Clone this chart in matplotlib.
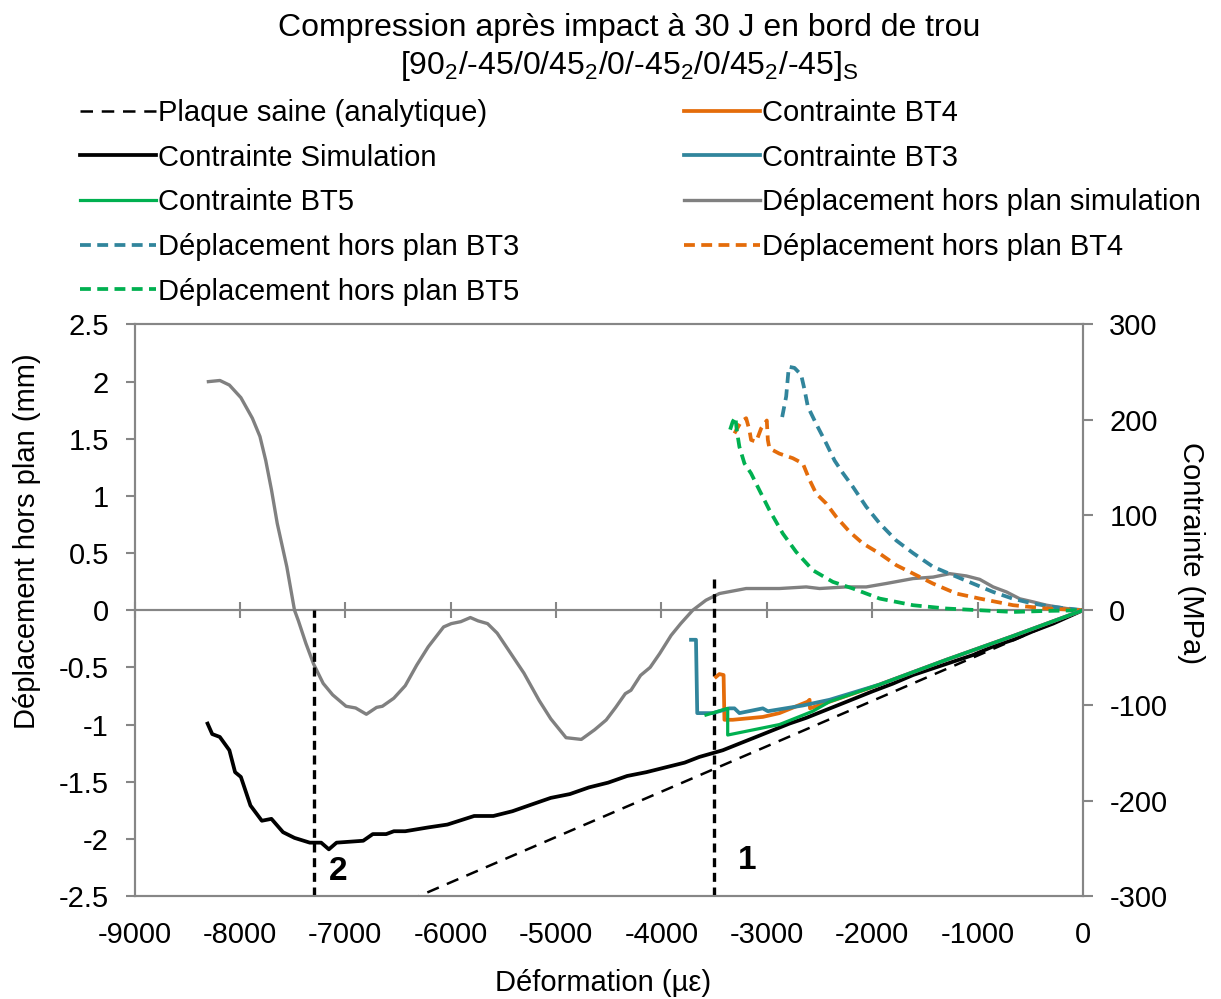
import matplotlib
matplotlib.use('Agg')
import matplotlib.pyplot as plt
from matplotlib.ticker import FuncFormatter

plt.rcParams['font.family'] = ['Liberation Sans', 'DejaVu Sans']
plt.rcParams['axes.unicode_minus'] = False
plt.rcParams['mathtext.default'] = 'regular'

# ---------------- data ----------------
# Out-of-plane displacement, simulation (mm, left axis)
sim_disp_x = [-8299, -8190, -8100, -7991, -7882, -7810, -7755, -7700, -7646, -7555,
              -7482, -7446, -7374, -7301, -7210, -7120, -6993, -6902, -6800, -6703,
              -6648, -6540, -6431, -6322, -6213, -6067, -5994, -5904, -5813, -5740,
              -5650, -5559, -5450, -5305, -5160, -5050, -4905, -4760, -4633, -4524,
              -4434, -4343, -4289, -4198, -4107, -4017, -3908, -3817, -3703, -3577,
              -3450, -3196, -2880, -2626, -2499, -2246, -2056, -1866, -1612, -1422,
              -1264, -1106, -979, -852, -725, -599, -472, -345, -155, 0]
sim_disp_y = [2.00, 2.01, 1.97, 1.86, 1.68, 1.52, 1.31, 1.05, 0.76, 0.38,
              0.00, -0.09, -0.29, -0.47, -0.64, -0.74, -0.84, -0.855, -0.91, -0.85,
              -0.84, -0.77, -0.66, -0.48, -0.32, -0.146, -0.117, -0.10, -0.064, -0.093,
              -0.117, -0.20, -0.35, -0.55, -0.79, -0.95, -1.115, -1.13, -1.045, -0.96,
              -0.85, -0.73, -0.70, -0.57, -0.50, -0.38, -0.22, -0.117, 0.00, 0.088,
              0.146, 0.19, 0.19, 0.204, 0.19, 0.204, 0.204, 0.234, 0.277, 0.29,
              0.32, 0.30, 0.27, 0.204, 0.16, 0.10, 0.073, 0.044, 0.015, 0.0]

# Out-of-plane displacement, tests (mm, left axis)
bt3_disp_x = [-2854, -2816, -2791, -2737, -2674, -2642, -2610, -2531, -2436, -2357,
              -2278, -2183, -2056, -1929, -1771, -1612, -1422, -1232, -1042, -852,
              -662, -472, -282, 0]
bt3_disp_y = [1.69, 1.87, 2.13, 2.12, 2.06, 1.93, 1.78, 1.63, 1.46, 1.31,
              1.20, 1.08, 0.905, 0.76, 0.61, 0.50, 0.38, 0.306, 0.233, 0.16,
              0.10, 0.058, 0.029, 0.0]

bt4_disp_x = [-3307, -3244, -3196, -3165, -3149, -3101, -3054, -3000, -2990, -2975,
              -2880, -2753, -2658, -2594, -2531, -2436, -2341, -2214, -2088, -1929,
              -1771, -1612, -1422, -1201, -979, -662, -345, 0]
bt4_disp_y = [1.547, 1.65, 1.68, 1.576, 1.49, 1.474, 1.59, 1.66, 1.49, 1.416,
              1.37, 1.33, 1.284, 1.14, 1.02, 0.934, 0.817, 0.686, 0.584, 0.496,
              0.394, 0.321, 0.233, 0.146, 0.102, 0.044, 0.015, 0.0]

bt5_disp_x = [-3348, -3323, -3298, -3285, -3260, -3212, -3149, -3070, -2975, -2848,
              -2721, -2563, -2373, -2183, -1929, -1612, -1296, -979, -662, -345, 0]
bt5_disp_y = [1.58, 1.65, 1.69, 1.576, 1.43, 1.284, 1.197, 1.05, 0.876, 0.671,
              0.51, 0.35, 0.248, 0.19, 0.102, 0.044, 0.015, 0.0, -0.015, -0.006, 0.0]

# Stress, simulation (MPa, right axis)
sim_stress_x = [-8307, -8263, -8191, -8100, -8046, -7991, -7900, -7792, -7701, -7591,
                -7482, -7337, -7229, -7156, -7083, -6830, -6739, -6612, -6539, -6431,
                -6213, -6031, -5777, -5595, -5414, -5233, -5050, -4869, -4688, -4506,
                -4325, -4143, -3962, -3780, -3640, -3513, -3418, -3260, -3101, -2943,
                -2785, -2626, -2468, -2309, -2151, -1993, -1802, -1612, -1422, -1232,
                -1042, -852, -662, -472, -282, 0]
sim_stress_y = [-119, -130, -133, -147, -170, -175, -205, -221, -219, -233,
                -239, -244, -244, -251, -244, -242, -235, -235, -232, -232,
                -228, -225, -216, -216, -211, -204, -197, -193, -186, -181,
                -174, -170, -165, -160, -154, -150, -147, -140, -133, -126,
                -119, -113, -106, -99, -92, -85, -77, -68, -61, -54,
                -47, -38, -31, -22, -14, 0]

# Stress, tests (MPa, right axis)
bt3_stress_x = [0, -662, -1296, -1929, -2404, -2658, -2990, -3038, -3260, -3307,
                -3355, -3513, -3660, -3672, -3719]
bt3_stress_y = [0, -27, -52, -78, -94, -100, -106, -103, -108, -103,
                -103, -108, -108, -31, -31]

bt4_stress_x = [0, -662, -1296, -1929, -2404, -2590, -2594, -2613, -2880, -3038,
                -3323, -3402, -3410, -3450, -3482]
bt4_stress_y = [0, -27, -52, -78, -96, -103, -94, -96, -108, -112,
                -115, -115, -68, -67, -70]

bt5_stress_x = [0, -662, -1296, -1929, -2404, -2563, -2880, -3371, -3371, -3577]
bt5_stress_y = [0, -27, -52, -78, -96, -106, -120, -131, -103, -110]

# Healthy plate (analytical)
analytic_x = [0, -6300]
analytic_y = [0, -300]

# Event markers (vertical dashed lines)
event_x = [-3500, -7300]
event_top = [0.27, 0.0]
event_labels = ['1', '2']
event_label_x = [-3182, -7071]
event_label_y = [-2.19, -2.29]

x_ticks = list(range(-9000, 1, 1000))
left_ticks = [-2.5, -2, -1.5, -1, -0.5, 0, 0.5, 1, 1.5, 2, 2.5]
right_ticks = [-300, -200, -100, 0, 100, 200, 300]

# ---------------- style ----------------
FS = 21
AXC = '#868686'
C_BLUE = '#31859C'
C_ORANGE = '#E46C0A'
C_GREEN = '#00B050'
C_GRAY = '#808080'

fig = plt.figure(figsize=(12.21, 9.99), dpi=100)
ax = fig.add_axes([0.1102, 0.1031, 0.7767, 0.5721])
ax2 = ax.twinx()

ax.set_xlim(-9000, 0)
ax.set_ylim(-2.5, 2.5)
ax2.set_ylim(-300, 300)

# zero line of the displacement axis with crossing ticks
ax.axhline(0, color=AXC, lw=1.5, zorder=1)
sec = ax.secondary_xaxis(0.5)
sec.set_xticks(x_ticks)
sec.tick_params(axis='x', which='both', direction='inout', length=12, width=1.5,
                color=AXC, labelbottom=False, labeltop=False)
for s in sec.spines.values():
    s.set_color(AXC)
    s.set_linewidth(1.5)

for a in (ax, ax2):
    for s in a.spines.values():
        s.set_color(AXC)
        s.set_linewidth(1.5)

ax.set_xticks(x_ticks)
ax.tick_params(axis='x', length=0, labelsize=FS, pad=18)
ax.set_yticks(left_ticks)
ax.yaxis.set_major_formatter(FuncFormatter(lambda v, p: '%g' % v))
ax.tick_params(axis='y', direction='out', length=6.5, width=1.5, color=AXC,
               labelsize=FS, pad=12)
ax2.set_yticks(right_ticks)
ax2.yaxis.set_major_formatter(FuncFormatter(lambda v, p: '%g' % v))
ax2.tick_params(axis='y', direction='out', length=7, width=1.5, color=AXC,
                labelsize=FS, pad=12)

# ---------------- curves ----------------
dash_c = (0, (2.9, 1.7))
h_disp_sim, = ax.plot(sim_disp_x, sim_disp_y, color=C_GRAY, lw=2.4,
                      label='Déplacement hors plan simulation')
h_disp3, = ax.plot(bt3_disp_x, bt3_disp_y, color=C_BLUE, lw=2.7, ls=dash_c,
                   label='Déplacement hors plan BT3')
h_disp4, = ax.plot(bt4_disp_x, bt4_disp_y, color=C_ORANGE, lw=2.7, ls=dash_c,
                   label='Déplacement hors plan BT4')
h_disp5, = ax.plot(bt5_disp_x, bt5_disp_y, color=C_GREEN, lw=2.7, ls=dash_c,
                   label='Déplacement hors plan BT5')
ax.vlines(event_x, -2.5, event_top, colors='black', lw=2.4,
          linestyles=(0, (2.7, 1.7)), zorder=3)
for lx, ly, lt in zip(event_label_x, event_label_y, event_labels):
    ax.text(lx, ly, lt, fontsize=24, fontweight='bold', ha='center', va='center')

h_an, = ax2.plot(analytic_x, analytic_y, color='black', lw=1.8, ls=(0, (5, 3.5)),
                 label='Plaque saine (analytique)')
h_sim, = ax2.plot(sim_stress_x, sim_stress_y, color='black', lw=2.7,
                  label='Contrainte Simulation')
h_s4, = ax2.plot(bt4_stress_x, bt4_stress_y, color=C_ORANGE, lw=2.7,
                 label='Contrainte BT4')
h_s3, = ax2.plot(bt3_stress_x, bt3_stress_y, color=C_BLUE, lw=2.7,
                 label='Contrainte BT3')
h_s5, = ax2.plot(bt5_stress_x, bt5_stress_y, color=C_GREEN, lw=2.3,
                 label='Contrainte BT5')

# ---------------- labels ----------------
ax.set_xlabel('Déformation (µε)', fontsize=FS, va='center')
ax.xaxis.set_label_coords(0.494, -0.152)
ax.set_ylabel('Déplacement hors plan (mm)', fontsize=FS, va='center')
ax.yaxis.set_label_coords(-0.113, 0.62)
ax2.set_ylabel('Contrainte (MPa)', fontsize=FS, rotation=270, va='center')
ax2.yaxis.set_label_coords(1.114, 0.60)

TFS = 23
fig.text(0.515, 1 - 36 / 999, 'Compression après impact à 30 J en bord de trou',
         ha='center', va='baseline', fontsize=TFS)
fig.text(0.515, 1 - 74 / 999,
         '[90$_2$/-45/0/45$_2$/0/-45$_2$/0/45$_2$/-45]$_S$',
         ha='center', va='baseline', fontsize=TFS)

handles = [h_an, h_sim, h_s5, h_disp3, h_disp5, h_s4, h_s3, h_disp_sim, h_disp4]
fig.legend(handles, [h.get_label() for h in handles], ncol=2, loc='upper left',
           bbox_to_anchor=(80 / 1221, 1 - 99 / 999), frameon=False, fontsize=FS,
           handlelength=2.6, handletextpad=0.08, columnspacing=5.65,
           labelspacing=0.57, borderpad=0, borderaxespad=0)

fig.savefig('out.png', dpi=100)
